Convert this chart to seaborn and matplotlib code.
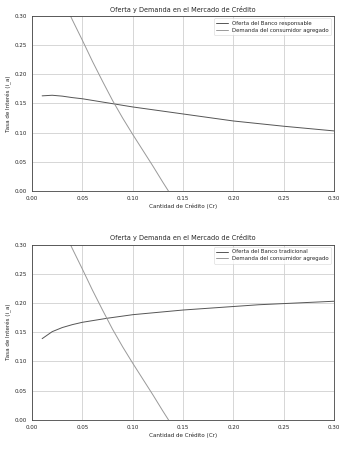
import numpy as np
import pandas as pd
import seaborn as sns
import matplotlib.pyplot as plt

# Demand curve (shared by both panels)
x_dem = [0.03, 0.04, 0.05, 0.06, 0.07, 0.08, 0.09, 0.10, 0.11, 0.12, 0.13, 0.14]
y_dem = [0.330, 0.293, 0.258, 0.222, 0.188, 0.155, 0.125, 0.097, 0.070, 0.043, 0.015, -0.012]

# Supply of the responsible bank
x_sup = [0.01, 0.02, 0.03, 0.04, 0.05, 0.075, 0.10, 0.125, 0.15, 0.175, 0.20, 0.225, 0.25, 0.275, 0.30]
y_resp = [0.163, 0.164, 0.1625, 0.160, 0.158, 0.151, 0.144, 0.138, 0.132, 0.126, 0.120, 0.1155, 0.111, 0.107, 0.103]

# Supply of the traditional bank
y_trad = [0.139, 0.151, 0.158, 0.163, 0.167, 0.174, 0.180, 0.184, 0.188, 0.191, 0.194, 0.197, 0.199, 0.201, 0.203]

labels = ['Oferta del Banco responsable', 'Oferta del Banco tradicional']
dem_label = 'Demanda del consumidor agregado'

sns.set_style('whitegrid')
plt.rcParams['font.family'] = ['DejaVu Sans']

fig, axes = plt.subplots(2, 1, figsize=(3.45, 4.51), dpi=100)
fig.subplots_adjust(left=0.093, right=0.968, top=0.965, bottom=0.069, hspace=0.305)

for ax, y_sup, lab in zip(axes, [y_resp, y_trad], labels):
    sns.lineplot(x=x_sup, y=y_sup, ax=ax, color='#555555', linewidth=0.7, label=lab)
    sns.lineplot(x=x_dem, y=y_dem, ax=ax, color='#999999', linewidth=0.7, label=dem_label)
    ax.set_xlim(0, 0.30)
    ax.set_ylim(0, 0.30)
    ax.set_xticks(np.arange(0, 0.31, 0.05))
    ax.set_yticks(np.arange(0, 0.31, 0.05))
    ax.set_title('Oferta y Demanda en el Mercado de Crédito', fontsize=4.7, pad=3)
    ax.set_xlabel('Cantidad de Crédito (Cr)', fontsize=4.1, labelpad=2)
    ax.set_ylabel('Tasa de Interés (i_a)', fontsize=4.1, labelpad=2)
    ax.tick_params(labelsize=4.1, length=2, pad=1.5, width=0.5)
    ax.grid(True, color='#d0d0d0', linewidth=0.6)
    for s in ax.spines.values():
        s.set_color('#444444')
        s.set_linewidth(0.6)
    leg = ax.legend(loc='upper right', fontsize=3.9, frameon=True, handlelength=2.2,
                    borderpad=0.4, labelspacing=0.35)
    leg.get_frame().set_linewidth(0.4)

plt.savefig('out.png', dpi=100)
